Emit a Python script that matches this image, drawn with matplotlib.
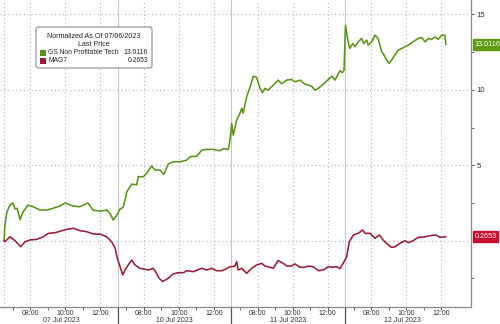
import matplotlib
matplotlib.use("Agg")
import matplotlib.pyplot as plt
from matplotlib.patches import FancyBboxPatch, Rectangle
from matplotlib.transforms import blended_transform_factory

plt.rcParams['font.family'] = ['Liberation Sans', 'DejaVu Sans']

# trading days shown (Pacific time, 06:30 - 13:00 sessions)
days = ["07 Jul 2023", "10 Jul 2023", "11 Jul 2023", "12 Jul 2023"]
day_keys = ["07-07", "07-10", "07-11", "07-12"]
tick_hours = ["08:00", "10:00", "12:00"]

green_name = "GS Non Profitable Tech"
green_last = 13.0116
green_times = [
    "07-07 06:30", "07-07 06:33", "07-07 06:40", "07-07 06:50", "07-07 07:00", "07-07 07:08",
    "07-07 07:15", "07-07 07:25", "07-07 07:35", "07-07 07:52", "07-07 08:10", "07-07 08:34",
    "07-07 08:58", "07-07 09:18", "07-07 09:42", "07-07 10:00", "07-07 10:26", "07-07 10:50",
    "07-07 11:18", "07-07 11:35", "07-07 11:59", "07-07 12:23", "07-07 12:34", "07-07 12:44",
    "07-07 12:54",
    "07-10 06:38", "07-10 06:48", "07-10 06:55", "07-10 07:01", "07-10 07:05", "07-10 07:18",
    "07-10 07:35", "07-10 07:40", "07-10 07:58", "07-10 08:09", "07-10 08:26", "07-10 08:38",
    "07-10 08:55", "07-10 09:08", "07-10 09:23", "07-10 09:40", "07-10 10:03", "07-10 10:26",
    "07-10 10:38", "07-10 11:01", "07-10 11:18", "07-10 11:35", "07-10 11:58", "07-10 12:20",
    "07-10 12:32", "07-10 12:49", "07-10 12:55",
    "07-11 06:31", "07-11 06:36", "07-11 06:48", "07-11 06:59", "07-11 07:05", "07-11 07:10",
    "07-11 07:22", "07-11 07:34", "07-11 07:45", "07-11 07:56", "07-11 08:08", "07-11 08:16",
    "07-11 08:25", "07-11 08:36", "07-11 08:53", "07-11 09:10", "07-11 09:22", "07-11 09:39",
    "07-11 09:56", "07-11 10:08", "07-11 10:25", "07-11 10:42", "07-11 11:05", "07-11 11:16",
    "07-11 11:28", "07-11 11:50", "07-11 12:14", "07-11 12:25", "07-11 12:42", "07-11 12:50",
    "07-11 12:56",
    "07-12 06:31", "07-12 06:40", "07-12 06:46", "07-12 06:56", "07-12 07:04", "07-12 07:15",
    "07-12 07:26", "07-12 07:34", "07-12 07:44", "07-12 07:49", "07-12 08:01", "07-12 08:12",
    "07-12 08:23", "07-12 08:35", "07-12 08:40", "07-12 08:52", "07-12 09:01", "07-12 09:09",
    "07-12 09:20", "07-12 09:32", "07-12 09:44", "07-12 09:55", "07-12 10:06", "07-12 10:23",
    "07-12 10:40", "07-12 10:52", "07-12 11:04", "07-12 11:15", "07-12 11:26", "07-12 11:38",
    "07-12 11:49", "07-12 12:01", "07-12 12:12", "07-12 12:15",
]
green_vals = [
    0.0, 1.0, 1.9, 2.35, 2.5, 2.1,
    2.15, 1.4, 1.9, 2.36, 2.25, 2.03,
    2.03, 2.15, 2.3, 2.5, 2.3, 2.25,
    2.5, 2.03, 1.96, 2.03, 1.8, 1.37,
    1.6,
    2.1, 2.2, 2.7, 3.25, 3.36, 3.75,
    3.7, 4.24, 4.24, 4.46, 4.95, 4.68,
    4.68, 4.4, 5.08, 5.23, 5.23, 5.33,
    5.56, 5.6, 6.0, 6.05, 6.05, 5.96,
    6.1, 6.05, 6.67,
    7.77, 7.0, 8.0, 8.44, 8.77, 8.45,
    9.54, 10.2, 10.9, 10.82, 10.1, 9.8,
    10.1, 9.98, 10.3, 10.64, 10.4, 10.64,
    10.69, 10.53, 10.64, 10.38, 10.24, 9.98,
    10.1, 10.46, 10.9, 10.64, 11.26, 11.13,
    11.3,
    14.28, 13.18, 12.74, 13.07, 12.85, 13.18,
    13.4, 13.07, 13.29, 12.96, 13.18, 13.62,
    13.4, 12.52, 12.4, 11.97, 11.75, 11.97,
    12.3, 12.63, 12.74, 12.85, 12.96, 13.18,
    13.4, 13.47, 13.18, 13.4, 13.34, 13.5,
    13.34, 13.62, 13.62, 13.0116,
]

red_name = "MAG7"
red_last = 0.2653
red_times = [
    "07-07 06:30", "07-07 06:33", "07-07 06:50", "07-07 07:08", "07-07 07:27", "07-07 07:42",
    "07-07 07:59", "07-07 08:22", "07-07 08:45", "07-07 09:02", "07-07 09:25", "07-07 09:48",
    "07-07 10:05", "07-07 10:28", "07-07 10:51", "07-07 11:13", "07-07 11:36", "07-07 11:59",
    "07-07 12:22", "07-07 12:39", "07-07 12:51", "07-07 12:57",
    "07-10 06:38", "07-10 06:47", "07-10 06:55", "07-10 07:06", "07-10 07:18", "07-10 07:29",
    "07-10 07:46", "07-10 08:04", "07-10 08:15", "07-10 08:32", "07-10 08:44", "07-10 08:52",
    "07-10 09:04", "07-10 09:23", "07-10 09:40", "07-10 09:58", "07-10 10:15", "07-10 10:26",
    "07-10 10:49", "07-10 11:18", "07-10 11:35", "07-10 11:52", "07-10 12:09", "07-10 12:26",
    "07-10 12:38", "07-10 12:55",
    "07-11 06:31", "07-11 06:42", "07-11 06:48", "07-11 06:53", "07-11 07:05", "07-11 07:22",
    "07-11 07:39", "07-11 07:56", "07-11 08:14", "07-11 08:25", "07-11 08:42", "07-11 08:53",
    "07-11 09:10", "07-11 09:28", "07-11 09:39", "07-11 09:56", "07-11 10:08", "07-11 10:25",
    "07-11 10:42", "07-11 10:53", "07-11 11:10", "07-11 11:28", "07-11 11:45", "07-11 12:02",
    "07-11 12:19", "07-11 12:31", "07-11 12:42", "07-11 12:53",
    "07-12 06:35", "07-12 06:44", "07-12 06:58", "07-12 07:15", "07-12 07:30", "07-12 07:38",
    "07-12 07:55", "07-12 08:12", "07-12 08:27", "07-12 08:40", "07-12 08:54", "07-12 09:09",
    "07-12 09:20", "07-12 09:38", "07-12 09:55", "07-12 10:06", "07-12 10:23", "07-12 10:40",
    "07-12 11:04", "07-12 11:26", "07-12 11:41", "07-12 11:55", "07-12 12:15",
]
red_vals = [
    0.0, -0.07, 0.26, 0.0, -0.4, -0.07,
    0.05, 0.09, 0.26, 0.49, 0.53, 0.66,
    0.75, 0.82, 0.66, 0.6, 0.44, 0.44,
    0.26, -0.07, -0.5, -1.06,
    -1.72, -2.27, -1.94, -1.6, -1.28, -1.6,
    -1.83, -1.9, -1.94, -1.83, -2.2, -2.49,
    -2.71, -2.49, -2.2, -2.12, -2.12, -1.99,
    -2.05, -1.83, -1.94, -1.83, -1.99, -1.99,
    -1.9, -1.72,
    -1.72, -1.68, -1.39, -1.94, -1.83, -2.16,
    -1.83, -1.61, -1.5, -1.68, -1.76, -1.83,
    -1.32, -1.5, -1.68, -1.68, -1.54, -1.76,
    -1.76, -1.68, -1.72, -1.99, -1.94, -1.72,
    -1.76, -1.72, -1.85, -1.5,
    -1.06, -0.07, 0.38, 0.49, 0.71, 0.49,
    0.49, 0.16, 0.38, 0.05, -0.22, -0.44,
    -0.4, -0.17, 0.0, -0.13, 0.0, 0.22,
    0.26, 0.35, 0.38, 0.22, 0.2653,
]

SESSION = 6.5  # hours per session, 06:30 -> 13:00


def to_pos(stamp):
    d, t = stamp.split()
    h, m = t.split(":")
    return day_keys.index(d) * SESSION + (int(h) + int(m) / 60 - 6.5)


green_x = [to_pos(s) for s in green_times]
red_x = [to_pos(s) for s in red_times]

GREEN = "#5a9418"
RED = "#9c1c38"
GREEN_TAG = "#5e9a12"
RED_TAG = "#c8102e"
GRID = "#b5b5b5"

fig = plt.figure(figsize=(5.0, 3.24), dpi=100)
ax = fig.add_axes([0.0, 0.054, 0.942, 0.946])

ax.plot(green_x, green_vals, color=GREEN, lw=1.15, zorder=3)
ax.plot(red_x, red_vals, color=RED, lw=1.15, zorder=3)

ax.set_xlim(-0.23, 26.69)
ax.set_ylim(-4.36, 15.95)

# grid
for v in [0, 5, 10, 15]:
    ax.axhline(v, color=GRID, lw=0.8, ls=(0, (1, 2.5)), zorder=1)
major = []
minor = []
for i in range(len(days)):
    for h in [8, 10, 12]:
        major.append(i * SESSION + h - 6.5)
    for h in [7, 9, 11]:
        minor.append(i * SESSION + h - 6.5)
for xv in major + [0.0]:
    ax.axvline(xv, color=GRID, lw=0.8, ls=(0, (1, 2.5)), zorder=1)
for i in range(1, len(days)):
    ax.axvline(i * SESSION, color="#c8c8c8", lw=0.8, zorder=1)
    ax.plot([i * SESSION, i * SESSION], [0, -0.06], transform=ax.get_xaxis_transform(),
            color="#555555", lw=0.9, clip_on=False)

# axes styling
for s in ["top", "left"]:
    ax.spines[s].set_visible(False)
ax.spines["right"].set_color("#8a8a8a")
ax.spines["bottom"].set_color("#8a8a8a")
ax.spines["right"].set_linewidth(0.9)
ax.spines["bottom"].set_linewidth(0.9)

ax.set_xticks(major)
ax.set_xticklabels(tick_hours * len(days))
ax.set_xticks(minor, minor=True)
ax.tick_params(axis="x", which="major", length=2.0, width=0.7, color="#555555",
               labelsize=5.0, labelcolor="#333333", pad=0.3)
ax.tick_params(axis="x", which="minor", length=1.8, width=0.6, color="#555555")

ax.yaxis.tick_right()
ax.set_yticks([5, 10, 15])
ax.set_yticklabels(["5", "10", "15"])
ax.set_yticks([-2.5, 2.5, 7.5, 12.5], minor=True)
ax.tick_params(axis="y", which="major", length=2.5, width=0.7, color="#555555",
               labelsize=5.6, labelcolor="#333333", pad=1.5)
ax.tick_params(axis="y", which="minor", length=2.0, width=0.6, color="#555555")

# day labels under the hour labels
day_tr = blended_transform_factory(ax.transData, fig.transFigure)
for i, d in enumerate(days):
    ax.text(i * SESSION + SESSION / 2, 0.3 / 324, d, transform=day_tr,
            ha="center", va="bottom", fontsize=5.0, color="#333333")

# last-value tags on the right axis
for val, col in [(green_last, GREEN_TAG), (red_last, RED_TAG)]:
    ax.annotate(f"{val:.4f}", xy=(1.0, val), xycoords=("axes fraction", "data"),
                xytext=(2.5, 0), textcoords="offset points", ha="left", va="center",
                fontsize=5.2, color="white", annotation_clip=False, zorder=6,
                bbox=dict(boxstyle="square,pad=0.25", fc=col, ec=col))

# legend box
lx0, ly0, lw_, lh = 36 / 500, 1 - 68 / 324, 116 / 500, 41 / 324
fig.patches.append(FancyBboxPatch((lx0, ly0), lw_, lh, boxstyle="round,pad=0,rounding_size=0.006",
                                  transform=fig.transFigure, fc="white", ec="#8c8c8c", lw=0.8,
                                  zorder=10))
cx = lx0 + lw_ / 2
fig.text(cx, 1 - 36 / 324, "Normalized As Of 07/06/2023", ha="center", va="center",
         fontsize=5.1, color="#222222", zorder=11)
fig.text(cx, 1 - 44 / 324, "Last Price", ha="center", va="center",
         fontsize=5.1, color="#222222", zorder=11)
for yy, name, val, col in [(52.5, green_name, green_last, GREEN), (61, red_name, red_last, RED)]:
    fig.patches.append(Rectangle((40 / 500, 1 - (yy + 3) / 324), 6 / 500, 6 / 324,
                                 transform=fig.transFigure, fc=col, ec="none", zorder=11))
    fig.text(48.5 / 500, 1 - yy / 324, name, ha="left", va="center", fontsize=4.85,
             color="#222222", zorder=11)
    fig.text(148 / 500, 1 - yy / 324, f"{val:.4f}", ha="right", va="center", fontsize=4.85,
             color="#222222", zorder=11)

fig.savefig("out.png", dpi=100)
